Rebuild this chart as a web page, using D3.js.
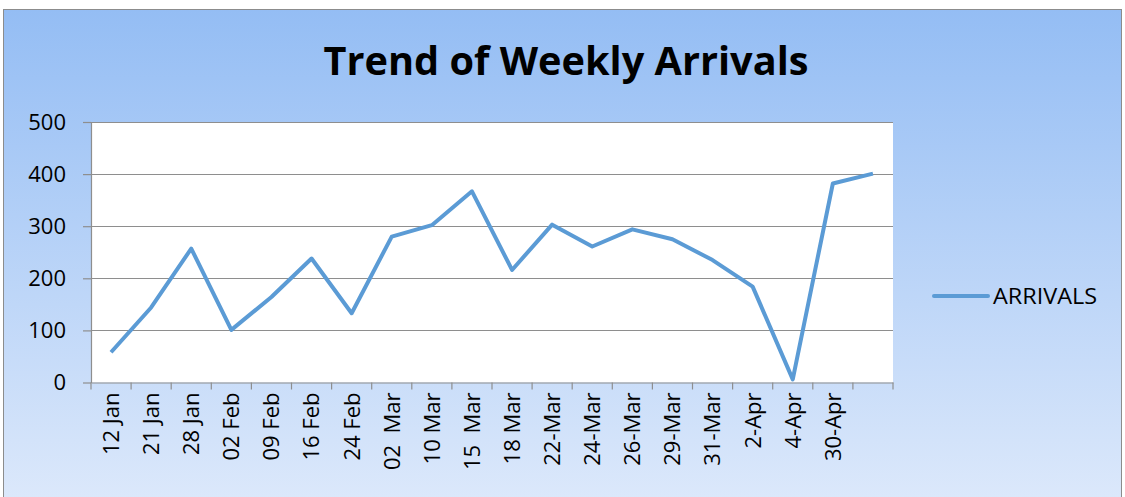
<!DOCTYPE html>
<html>
<head>
<meta charset="utf-8">
<script src="https://cdn.jsdelivr.net/npm/d3@7"></script>
<style>
  body { margin: 0; background: #fff; }
  svg { display: block; }
</style>
</head>
<body>
<svg width="1125" height="497"></svg>
<script>
// weekly arrivals
const weeks = ['12 Jan', '21 Jan', '28 Jan', '02 Feb', '09 Feb', '16 Feb', '24 Feb', '02  Mar', '10 Mar', '15  Mar',
  '18 Mar', '22-Mar', '24-Mar', '26-Mar', '29-Mar', '31-Mar', '2-Apr', '4-Apr', '30-Apr', ''];
const arrivals = [58, 144, 257, 101, 164, 238, 133, 280, 302, 367, 216, 303, 261, 294, 275, 235, 184, 6, 382, 401];
const yTicks = [0, 100, 200, 300, 400, 500];
const seriesName = 'ARRIVALS';

const svg = d3.select('svg');
const font = 'Open Sans, Liberation Sans, sans-serif';

// background gradient
const grad = svg.append('defs').append('linearGradient')
  .attr('id', 'bg').attr('x1', 0).attr('y1', 0).attr('x2', 0).attr('y2', 1);
grad.append('stop').attr('offset', '0%').attr('stop-color', '#94bdf4');
grad.append('stop').attr('offset', '100%').attr('stop-color', '#dde9fb');

svg.append('rect')
  .attr('x', 3.5).attr('y', 9.5).attr('width', 1118).attr('height', 500)
  .attr('fill', 'url(#bg)').attr('stroke', '#8c8c8c');

const plotL = 91, plotR = 893, plotT = 122, plotB = 382.5;

const x = d3.scaleBand().domain(d3.range(weeks.length)).range([plotL, plotR]);
const y = d3.scaleLinear().domain([0, 500]).range([plotB, plotT]);

svg.append('rect')
  .attr('x', plotL).attr('y', plotT).attr('width', plotR - plotL).attr('height', plotB - plotT)
  .attr('fill', '#fff');

// gridlines
svg.append('g')
  .selectAll('line')
  .data(yTicks.slice(1))
  .join('line')
  .attr('x1', plotL).attr('x2', plotR)
  .attr('y1', (d) => Math.round(y(d)) + 0.5).attr('y2', (d) => Math.round(y(d)) + 0.5)
  .attr('stroke', '#8e8e8e').attr('stroke-width', 1.2);

// y axis
const yAxis = svg.append('g')
  .attr('transform', `translate(${plotL},0)`)
  .call(d3.axisLeft(y).tickValues(yTicks).tickSize(8).tickPadding(17).tickSizeOuter(0));
yAxis.selectAll('line, path').attr('stroke', '#8e8e8e').attr('stroke-width', 1.2);
yAxis.selectAll('text').attr('font-family', font).attr('font-size', 22).attr('fill', '#000');

// x axis
const xAxis = svg.append('g')
  .attr('transform', `translate(0,${plotB})`)
  .call(d3.axisBottom(x).tickSize(0).tickFormat((i) => weeks[i]));
xAxis.select('path').attr('stroke', '#8e8e8e').attr('stroke-width', 1.2);
xAxis.selectAll('text')
  .attr('font-family', font).attr('font-size', 22).attr('fill', '#000')
  .style('white-space', 'pre')
  .attr('transform', 'rotate(-90)')
  .attr('text-anchor', 'end')
  .attr('x', -10).attr('y', 0).attr('dy', '0.36em');

const xTicks = d3.range(weeks.length + 1).map((i) => plotL + i * x.step());
svg.append('g')
  .selectAll('line')
  .data(xTicks)
  .join('line')
  .attr('x1', (d) => d).attr('x2', (d) => d)
  .attr('y1', plotB).attr('y2', plotB + 7)
  .attr('stroke', '#8e8e8e').attr('stroke-width', 1.2);

// line
const line = d3.line()
  .x((d, i) => x(i) + x.bandwidth() / 2)
  .y((d) => y(d));

svg.append('path')
  .datum(arrivals)
  .attr('d', line)
  .attr('fill', 'none')
  .attr('stroke', '#5b9bd5')
  .attr('stroke-width', 4)
  .attr('stroke-linejoin', 'round');

// title
svg.append('text')
  .attr('x', 566).attr('y', 75)
  .attr('text-anchor', 'middle')
  .attr('font-family', font).attr('font-weight', 'bold').attr('font-size', 40)
  .attr('textLength', 485).attr('lengthAdjust', 'spacingAndGlyphs')
  .text('Trend of Weekly Arrivals');

// legend
svg.append('line')
  .attr('x1', 934).attr('x2', 988).attr('y1', 296).attr('y2', 296)
  .attr('stroke', '#5b9bd5').attr('stroke-width', 4).attr('stroke-linecap', 'round');
svg.append('text')
  .attr('x', 993).attr('y', 303.5)
  .attr('font-family', font).attr('font-size', 22)
  .attr('textLength', 104).attr('lengthAdjust', 'spacingAndGlyphs')
  .text(seriesName);
</script>
</body>
</html>
